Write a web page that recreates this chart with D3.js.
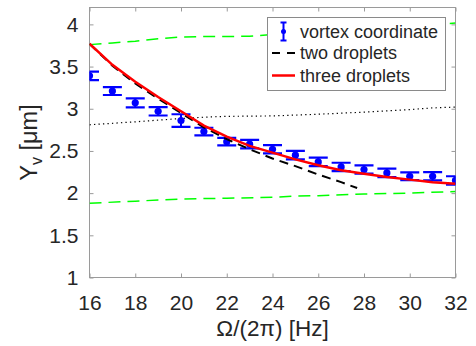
<!DOCTYPE html>
<html><head><meta charset="utf-8">
<script src="https://cdn.jsdelivr.net/npm/d3@7"></script>
<style>body{margin:0;background:#fff}svg{display:block}text{font-family:"Liberation Sans",Arial,Helvetica,sans-serif;fill:#262626}</style>
</head><body><svg id="c" width="476" height="346"></svg>
<script>
// ---- data ----
const vortexX   = [16,17,18,19,20,21,22,23,24,25,26,27,28,29,30,31,32];
const vortexY   = [3.39,3.21,3.07,2.97,2.86,2.73,2.61,2.58,2.52,2.45,2.37,2.31,2.28,2.24,2.20,2.20,2.15];
const vortexErr = [0.05,0.047,0.053,0.05,0.075,0.045,0.045,0.05,0.05,0.05,0.05,0.05,0.05,0.05,0.045,0.05,0.05];
const threeX = [16,17,18,19,20,21,22,23,24,25,26,27,28,29,30,31,32];
const threeY = [3.77,3.52,3.32,3.14,2.97,2.80,2.67,2.56,2.48,2.40,2.33,2.27,2.23,2.19,2.16,2.13,2.11];
const twoX = [16,17,18,19,20,21,22,23,24,25,26,27,27.7];
const twoY = [3.77,3.51,3.30,3.12,2.95,2.78,2.64,2.52,2.41,2.32,2.22,2.13,2.06];
const upperX = [16,17,18,19,20,21,22,23,24,25,26,27,28,29,30,31,32];
const upperY = [3.76,3.78,3.80,3.83,3.85,3.855,3.855,3.86,3.88,3.90,3.92,3.94,3.96,3.98,3.99,4.00,4.015];
const lowerX = [16,18,20,22,24,25,26,28,30,32];
const lowerY = [1.88,1.905,1.93,1.94,1.95,1.965,1.97,1.99,2.00,2.02];
const dotX = [16,18,20,21,22,24,26,28,30,31,32];
const dotY = [2.81,2.845,2.885,2.90,2.91,2.915,2.935,2.96,2.99,3.01,3.02];
const xTicks = [16,18,20,22,24,26,28,30,32];
const yTicks = [1,1.5,2,2.5,3,3.5,4];
const legendLabels = ["vortex coordinate","two droplets","three droplets"];

// ---- layout ----
const L=89.5, R=455.5, T=7.5, B=277.5;
const x = d3.scaleLinear().domain([16,32]).range([L,R]);
const y = d3.scaleLinear().domain([1,4.2]).range([B,T]);
const svg = d3.select("#c");
const axCol = "#9a9a9a";
const tickFont = 21;

svg.append("defs").append("clipPath").attr("id","clip")
  .append("rect").attr("x",L).attr("y",T).attr("width",R-L).attr("height",B-T);

// axes (ticks inward)
const fmt = d3.format("");
svg.append("g").attr("transform",`translate(0,${B})`)
  .call(d3.axisBottom(x).tickValues(xTicks).tickSizeInner(-4).tickSizeOuter(0).tickPadding(17.5).tickFormat(fmt));
svg.append("g").attr("transform",`translate(0,${T})`)
  .call(d3.axisTop(x).tickValues(xTicks).tickSizeInner(-4).tickSizeOuter(0).tickFormat(""));
svg.append("g").attr("transform",`translate(${L},0)`)
  .call(d3.axisLeft(y).tickValues(yTicks).tickSizeInner(-4).tickSizeOuter(0).tickPadding(11).tickFormat(fmt));
svg.append("g").attr("transform",`translate(${R},0)`)
  .call(d3.axisRight(y).tickValues(yTicks).tickSizeInner(-4).tickSizeOuter(0).tickFormat(""));
svg.selectAll(".domain").remove();
svg.selectAll(".tick line").attr("stroke",axCol);
svg.selectAll(".tick text").attr("font-size",tickFont).attr("fill","#262626")
  .attr("font-family","'Liberation Sans',Arial,sans-serif");
svg.append("rect").attr("x",L).attr("y",T).attr("width",R-L).attr("height",B-T)
  .attr("fill","none").attr("stroke",axCol).attr("stroke-width",1);

const plot = svg.append("g").attr("clip-path","url(#clip)");
const line = (xs,ys)=>d3.line().x((d,i)=>x(xs[i])).y((d,i)=>y(ys[i]))(ys);

// green dashed
plot.append("path").attr("d",line(upperX,upperY)).attr("fill","none")
  .attr("stroke","#00ff00").attr("stroke-width",1.5).attr("stroke-dasharray","12,7");
plot.append("path").attr("d",line(lowerX,lowerY)).attr("fill","none")
  .attr("stroke","#00ff00").attr("stroke-width",1.5).attr("stroke-dasharray","12,7");
// dotted
plot.append("path").attr("d",line(dotX,dotY)).attr("fill","none")
  .attr("stroke","#000").attr("stroke-width",1.2).attr("stroke-dasharray","1.3,3.2");

// error bars
const eb = plot.append("g");
const cw = 9.5;
vortexX.forEach((vx,i)=>{
  const cx=x(vx), y0=y(vortexY[i]-vortexErr[i]), y1=y(vortexY[i]+vortexErr[i]);
  eb.append("line").attr("x1",cx).attr("x2",cx).attr("y1",y0).attr("y2",y1).attr("stroke","#0000ff").attr("stroke-width",2);
  eb.append("line").attr("x1",cx-cw).attr("x2",cx+cw).attr("y1",y0).attr("y2",y0).attr("stroke","#0000ff").attr("stroke-width",2.2);
  eb.append("line").attr("x1",cx-cw).attr("x2",cx+cw).attr("y1",y1).attr("y2",y1).attr("stroke","#0000ff").attr("stroke-width",2.2);
  eb.append("circle").attr("cx",cx).attr("cy",y(vortexY[i])).attr("r",3.6).attr("fill","#0000ff");
});

// two droplets (black dashed)
plot.append("path").attr("d",line(twoX,twoY)).attr("fill","none")
  .attr("stroke","#000").attr("stroke-width",2).attr("stroke-dasharray","9,6");
// three droplets (red)
plot.append("path").attr("d",line(threeX,threeY)).attr("fill","none")
  .attr("stroke","#ff0000").attr("stroke-width",2.5);

// legend
const lg = svg.append("g");
lg.append("rect").attr("x",267.5).attr("y",17.5).attr("width",178).attr("height",73)
  .attr("fill","#fff").attr("stroke","#8a8a8a").attr("stroke-width",1);
const rows=[31.5,53,75.5];
// errorbar icon
const ix=283.5;
lg.append("line").attr("x1",ix).attr("x2",ix).attr("y1",rows[0]-9).attr("y2",rows[0]+9).attr("stroke","#0000ff").attr("stroke-width",2);
lg.append("line").attr("x1",ix-3).attr("x2",ix+3).attr("y1",rows[0]-9).attr("y2",rows[0]-9).attr("stroke","#0000ff").attr("stroke-width",2);
lg.append("line").attr("x1",ix-3).attr("x2",ix+3).attr("y1",rows[0]+9).attr("y2",rows[0]+9).attr("stroke","#0000ff").attr("stroke-width",2);
lg.append("circle").attr("cx",ix).attr("cy",rows[0]).attr("r",2.5).attr("fill","#0000ff");
lg.append("line").attr("x1",272).attr("x2",295).attr("y1",rows[1]).attr("y2",rows[1])
  .attr("stroke","#000").attr("stroke-width",2).attr("stroke-dasharray","8,7");
lg.append("line").attr("x1",272).attr("x2",295).attr("y1",rows[2]).attr("y2",rows[2])
  .attr("stroke","#ff0000").attr("stroke-width",2.5);
legendLabels.forEach((t,i)=>{
  lg.append("text").attr("x",300).attr("y",rows[i]).attr("dy","0.35em").attr("font-size",18).text(t);
});

// axis titles
svg.append("text").attr("x",(L+R)/2).attr("y",335.5).attr("text-anchor","middle").attr("font-size",22.5)
  .text("Ω/(2π) [Hz]");
const yl = svg.append("text").attr("transform",`translate(36.5,${(T+B)/2}) rotate(-90)`)
  .attr("text-anchor","middle").attr("font-size",23.5);
yl.append("tspan").text("Y");
yl.append("tspan").attr("font-size",16).attr("dy",5).text("v");
yl.append("tspan").attr("dy",-5).text(" [μm]");
</script></body></html>
